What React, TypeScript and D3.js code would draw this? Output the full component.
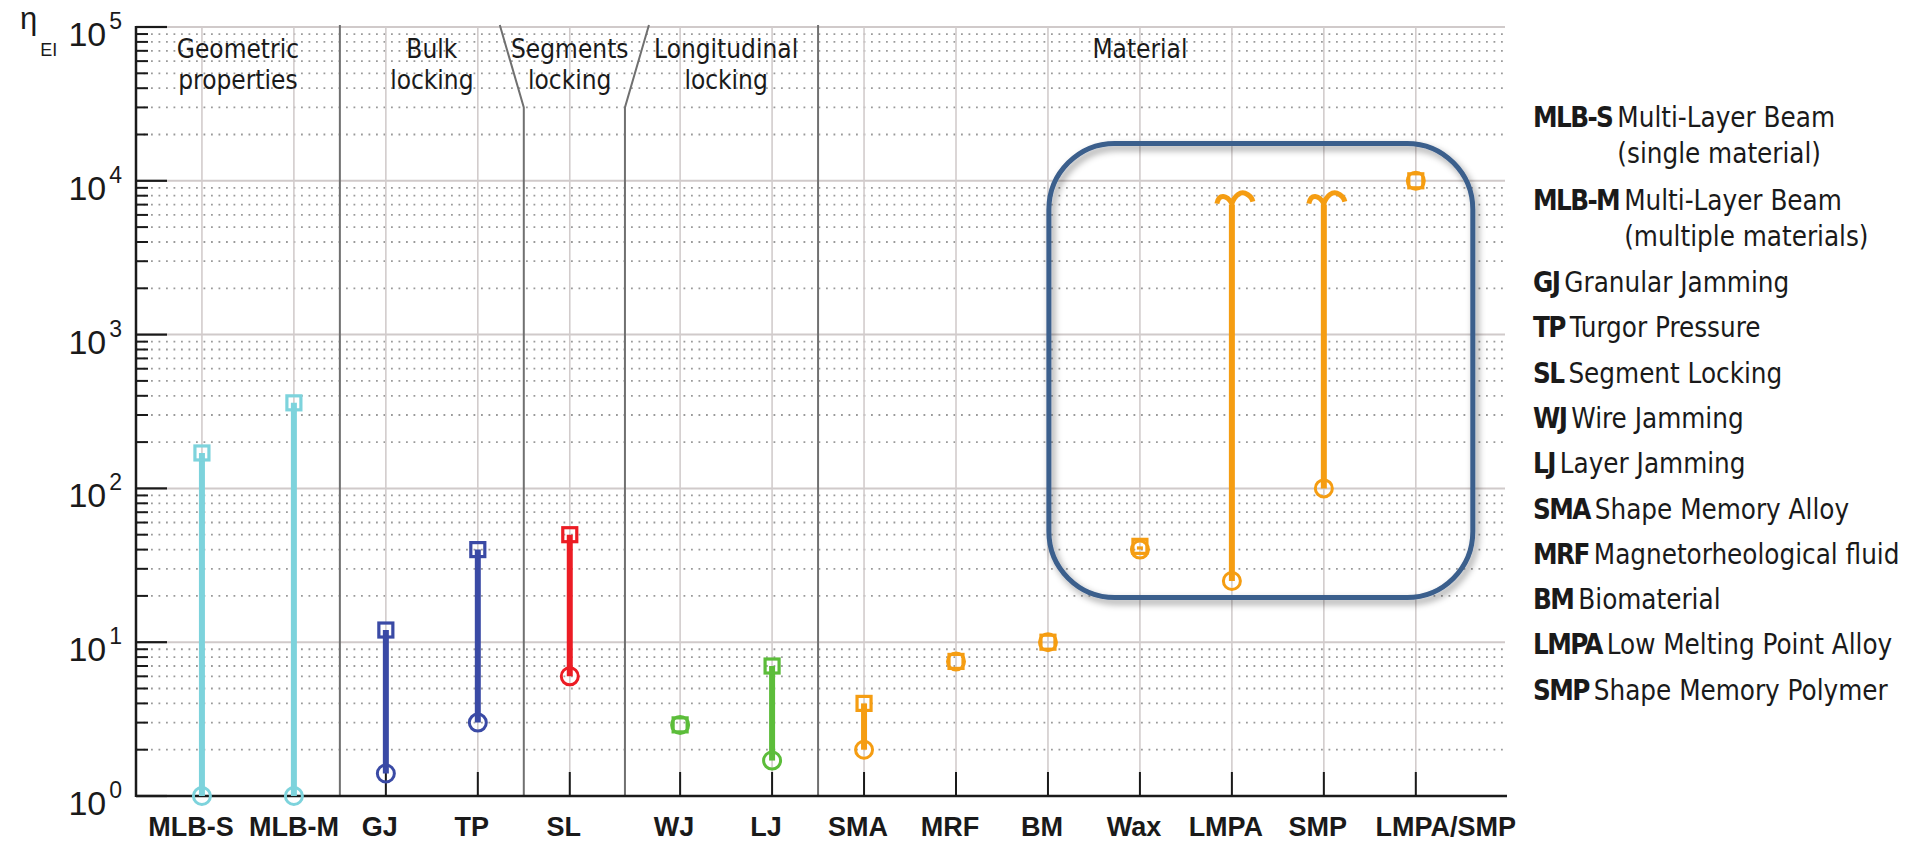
import React, { useEffect, useRef } from 'react';
import * as d3 from 'd3';

// Stiffness ratio eta_EI per variable-stiffness mechanism (log scale).
const categories = ['MLB-S', 'MLB-M', 'GJ', 'TP', 'SL', 'WJ', 'LJ', 'SMA', 'MRF', 'BM', 'Wax', 'LMPA', 'SMP', 'LMPA/SMP'];
const categoryGroup = ['geometric', 'geometric', 'bulk', 'bulk', 'segments', 'longitudinal', 'longitudinal',
  'material', 'material', 'material', 'material', 'material', 'material', 'material'];
const lowerValues = [1, 1, 1.4, 3, 6, 2.9, 1.7, 2, 7.5, 10, 40, 25, 100, 10000];
const upperValues = [170, 360, 12, 40, 50, 2.9, 7, 4, 7.5, 10, 42, 7000, 7000, 10000];
const upperOpen = [false, false, false, false, false, false, false, false, false, false, false, true, true, false];

const groupKeys = ['geometric', 'bulk', 'segments', 'longitudinal', 'material'];
const groupTitles = [['Geometric', 'properties'], ['Bulk', 'locking'], ['Segments', 'locking'], ['Longitudinal', 'locking'], ['Material']];

const yExponents = [0, 1, 2, 3, 4, 5];

const highlightedCategories = ['Wax', 'LMPA', 'SMP', 'LMPA/SMP'];
const highlightRange = [19.5, 17500];

const legendCodes = ['MLB-S', 'MLB-M', 'GJ', 'TP', 'SL', 'WJ', 'LJ', 'SMA', 'MRF', 'BM', 'LMPA', 'SMP'];
const legendNames = ['Multi-Layer Beam', 'Multi-Layer Beam', 'Granular Jamming', 'Turgor Pressure', 'Segment Locking',
  'Wire Jamming', 'Layer Jamming', 'Shape Memory Alloy', 'Magnetorheological fluid', 'Biomaterial',
  'Low Melting Point Alloy', 'Shape Memory Polymer'];
const legendNotes = ['(single material)', '(multiple materials)', '', '', '', '', '', '', '', '', '', ''];

const groupColor: Record<string, string> = {
  geometric: '#7dd3dc',
  bulk: '#3a4aa5',
  segments: '#ec1c24',
  longitudinal: '#5cbd3a',
  material: '#f59d12',
};

const W = 1907;
const H = 842;
const LEFT = 136;
const RIGHT = 1505;
const TOP = 27;
const BOTTOM = 796;

const textFont = "'DejaVu Sans Condensed', 'DejaVu Sans', sans-serif";
const axisFont = "'Liberation Sans', Arial, sans-serif";

// nudges crowded category labels apart
const labelShift = (name: string) => {
  if (name === 'MLB-S') return -11;
  if (name === 'MLB-M') return 0;
  if (name === 'LMPA/SMP') return 30;
  return -6;
};

export default function App() {
  const ref = useRef<SVGSVGElement>(null);

  useEffect(() => {
    const svg = d3.select(ref.current);
    svg.selectAll('*').remove();

    const gapIndex = categories.indexOf('WJ');
    const slot = (i: number) => i + (i >= gapIndex ? 0.2 : 0);
    const x = d3.scaleLinear().domain([-0.717, 14.17]).range([LEFT, RIGHT]);
    const y = d3.scaleLog().domain([1, 1e5]).range([BOTTOM, TOP]);
    const cx = (i: number) => x(slot(i));

    const defs = svg.append('defs');
    const f = defs.append('filter').attr('id', 'boxShadow')
      .attr('x', '-10%').attr('y', '-10%').attr('width', '130%').attr('height', '130%');
    f.append('feDropShadow').attr('dx', 3).attr('dy', 4).attr('stdDeviation', 3.5)
      .attr('flood-color', '#000').attr('flood-opacity', 0.4);

    // minor dotted grid
    const minor: number[] = [];
    for (let d = 0; d < 5; d++) for (let k = 2; k <= 9; k++) minor.push(k * Math.pow(10, d));
    svg.append('g').selectAll('line').data(minor).join('line')
      .attr('x1', LEFT).attr('x2', RIGHT)
      .attr('y1', (v) => y(v)).attr('y2', (v) => y(v))
      .attr('stroke', '#9a9a9a').attr('stroke-width', 1.8).attr('stroke-dasharray', '1.8 5.7');

    // major grid
    svg.append('g').selectAll('line').data(yExponents.filter((e) => e > 0)).join('line')
      .attr('x1', LEFT).attr('x2', RIGHT)
      .attr('y1', (e) => y(Math.pow(10, e))).attr('y2', (e) => y(Math.pow(10, e)))
      .attr('stroke', '#d0caca').attr('stroke-width', 2);

    // category grid
    svg.append('g').selectAll('line').data(categories).join('line')
      .attr('x1', (_, i) => cx(i)).attr('x2', (_, i) => cx(i))
      .attr('y1', TOP).attr('y2', BOTTOM)
      .attr('stroke', '#d2cccc').attr('stroke-width', 1.6);

    // group separators
    const slant = [0, -24, 24, 0];
    const knee = y(3e4);
    const sepG = svg.append('g');
    for (let g = 0; g < groupKeys.length - 1; g++) {
      const a = categoryGroup.lastIndexOf(groupKeys[g]);
      const b = categoryGroup.indexOf(groupKeys[g + 1]);
      const sx = (cx(a) + cx(b)) / 2;
      const pts: [number, number][] = slant[g] === 0
        ? [[sx, TOP - 2], [sx, BOTTOM]]
        : [[sx + slant[g], TOP - 2], [sx, knee], [sx, BOTTOM]];
      sepG.append('path').attr('d', d3.line()(pts)).attr('fill', 'none')
        .attr('stroke', '#707070').attr('stroke-width', 2);
    }

    // axes
    const ax = svg.append('g').attr('stroke', '#1a1a1a');
    ax.append('line').attr('x1', LEFT).attr('x2', LEFT).attr('y1', TOP - 1).attr('y2', BOTTOM + 1).attr('stroke-width', 2.5);
    ax.append('line').attr('x1', LEFT).attr('x2', RIGHT + 2).attr('y1', BOTTOM).attr('y2', BOTTOM).attr('stroke-width', 2.5);
    ax.selectAll('.maj').data(yExponents).join('line')
      .attr('x1', LEFT).attr('x2', LEFT + 31)
      .attr('y1', (e) => y(Math.pow(10, e))).attr('y2', (e) => y(Math.pow(10, e)))
      .attr('stroke-width', 2.2);
    ax.selectAll('.min').data(minor).join('line')
      .attr('x1', LEFT).attr('x2', LEFT + 12)
      .attr('y1', (v) => y(v)).attr('y2', (v) => y(v))
      .attr('stroke-width', 2);
    ax.selectAll('.xt').data(categories).join('line')
      .attr('x1', (_, i) => cx(i)).attr('x2', (_, i) => cx(i))
      .attr('y1', BOTTOM).attr('y2', BOTTOM - 24)
      .attr('stroke-width', 2);

    // y tick labels
    const yl = svg.append('g').attr('font-family', axisFont).attr('fill', '#1a1a1a');
    yExponents.forEach((e) => {
      const t = yl.append('text').attr('x', 122).attr('y', y(Math.pow(10, e)) + 19)
        .attr('text-anchor', 'end').attr('font-size', 34).text('10');
      t.append('tspan').attr('dy', -17).attr('dx', 3).attr('font-size', 23).text(String(e));
    });

    // axis title
    const yt = svg.append('text').attr('x', 20).attr('y', 29).attr('font-family', axisFont)
      .attr('fill', '#1a1a1a').attr('font-size', 31).text('η');
    yt.append('tspan').attr('dy', 27).attr('dx', 3).attr('font-size', 18).text('EI');

    // x tick labels
    svg.append('g').selectAll('text').data(categories).join('text')
      .attr('x', (d, i) => cx(i) + labelShift(d)).attr('y', 836)
      .attr('text-anchor', 'middle').attr('font-family', axisFont)
      .attr('font-weight', 'bold').attr('font-size', 27).attr('fill', '#1a1a1a')
      .text((d) => d);

    // group titles
    const gt = svg.append('g').attr('font-family', textFont).attr('font-stretch', 'condensed')
      .attr('font-size', 26).attr('fill', '#1a1a1a').attr('text-anchor', 'middle');
    groupKeys.forEach((k, g) => {
      const a = categoryGroup.indexOf(k);
      const b = categoryGroup.lastIndexOf(k);
      let center = (cx(a) + cx(b)) / 2;
      if (g === 0) {
        const next = categoryGroup.indexOf(groupKeys[1]);
        center = (LEFT + (cx(b) + cx(next)) / 2) / 2;
      }
      groupTitles[g].forEach((line, li) => {
        gt.append('text').attr('x', center).attr('y', 58 + li * 31).text(line);
      });
    });

    // stems
    const marks = svg.append('g');
    categories.forEach((c, i) => {
      const col = groupColor[categoryGroup[i]];
      if (upperValues[i] !== lowerValues[i]) {
        marks.append('line').attr('x1', cx(i)).attr('x2', cx(i))
          .attr('y1', y(lowerValues[i])).attr('y2', y(upperValues[i]))
          .attr('stroke', col).attr('stroke-width', 6);
      }
    });
    // markers
    categories.forEach((c, i) => {
      const col = groupColor[categoryGroup[i]];
      marks.append('circle').attr('cx', cx(i)).attr('cy', y(lowerValues[i])).attr('r', 8.5)
        .attr('fill', 'none').attr('stroke', col).attr('stroke-width', 3);
      if (upperOpen[i]) {
        const px = cx(i);
        const py = y(upperValues[i]);
        marks.append('path')
          .attr('transform', `translate(${px},${py})`)
          .attr('d', 'M -15,-1 C -13,-11 -5,-10 0,-1 C 3,-10 9,-13 13,-11.5 C 17,-10 20,-7 21,-3')
          .attr('fill', 'none').attr('stroke', col).attr('stroke-width', 5);
      } else {
        const s = 14;
        marks.append('rect').attr('x', cx(i) - s / 2).attr('y', y(upperValues[i]) - s / 2)
          .attr('width', s).attr('height', s)
          .attr('fill', 'none').attr('stroke', col).attr('stroke-width', 3.2);
      }
    });

    // highlight box around the material group with the widest range
    const hFirst = categories.indexOf(highlightedCategories[0]);
    const hLast = categories.indexOf(highlightedCategories[highlightedCategories.length - 1]);
    const bx0 = x(slot(hFirst) - 0.99);
    const bx1 = x(slot(hLast) + 0.62);
    const by0 = y(highlightRange[1]);
    const by1 = y(highlightRange[0]);
    svg.append('rect').attr('x', bx0).attr('y', by0).attr('width', bx1 - bx0).attr('height', by1 - by0)
      .attr('rx', 66).attr('ry', 66).attr('fill', 'none')
      .attr('stroke', '#3b5e8c').attr('stroke-width', 5).attr('filter', 'url(#boxShadow)');

    // legend
    const lg = svg.append('g').attr('font-family', textFont).attr('font-stretch', 'condensed')
      .attr('font-size', 27.5).attr('fill', '#1a1a1a');
    let ly = 127;
    legendCodes.forEach((code, i) => {
      const t = lg.append('text').attr('x', 1533).attr('y', ly);
      const b = t.append('tspan').attr('font-weight', 'bold').attr('letter-spacing', -1.6).text(code);
      t.append('tspan').attr('dx', 5).text(legendNames[i]);
      if (legendNotes[i]) {
        const bw = (b.node() as SVGTextContentElement).getComputedTextLength();
        lg.append('text').attr('x', 1533 + bw + 5).attr('y', ly + 36).text(legendNotes[i]);
      }
      ly += 45.3 + (legendNotes[i] ? 37.2 : 0);
    });
  }, []);

  return (
    <svg ref={ref} width={W} height={H}
      style={{ position: 'absolute', left: 0, top: 0, background: '#fff', display: 'block' }} />
  );
}
